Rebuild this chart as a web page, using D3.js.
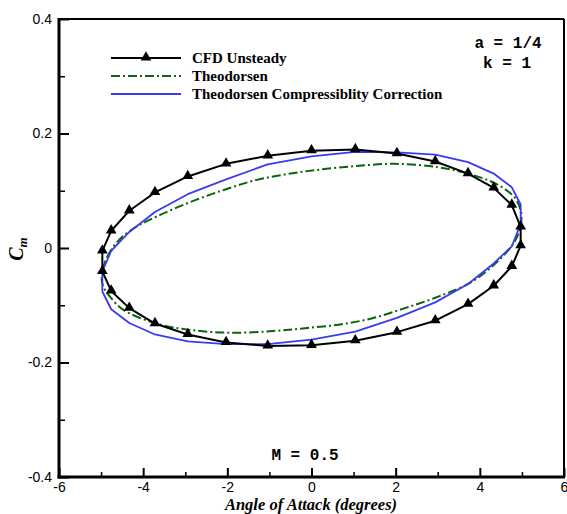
<!DOCTYPE html>
<html>
<head>
<meta charset="utf-8">
<script src="https://cdn.jsdelivr.net/npm/d3@7"></script>
<style>
  html, body { margin: 0; padding: 0; background: #fff; }
  svg { display: block; }
</style>
</head>
<body>
<svg id="chart" width="567" height="514"></svg>
<script>
// Angle of attack (deg) at each sampled phase around one pitching cycle
const phaseAlpha = [-4.97, -4.76, -4.33, -3.72, -2.94, -2.03, -1.04, 0, 1.04, 2.03, 2.94, 3.72, 4.33, 4.76, 4.97,
                    4.97, 4.76, 4.33, 3.72, 2.94, 2.03, 1.04, 0, -1.04, -2.03, -2.94, -3.72, -4.33, -4.76, -4.97];
// CFD unsteady moment coefficient at those phases
const cfdCm = [-0.005, 0.030, 0.065, 0.097, 0.125, 0.147, 0.161, 0.170, 0.172, 0.165, 0.151, 0.130, 0.105, 0.075, 0.037,
               0.004, -0.032, -0.066, -0.098, -0.127, -0.147, -0.162, -0.170, -0.171, -0.165, -0.151, -0.132, -0.105, -0.075, -0.041];
// Theodorsen with compressibility correction
const corrCm = [-0.041, -0.005, 0.028, 0.063, 0.094, 0.120, 0.146, 0.160, 0.168, 0.167, 0.163, 0.150, 0.130, 0.106, 0.076,
                0.042, 0.003, -0.027, -0.063, -0.095, -0.122, -0.146, -0.160, -0.168, -0.168, -0.163, -0.151, -0.131, -0.107, -0.076];
// Classical Theodorsen loop
const theoAlpha = [-4.98, -4.85, -4.60, -4.23, -3.68, -2.89, -2.10, -1.30, -0.50, 0.20, 1.03, 1.98, 3.01, 3.81, 4.44, 4.84, 4.98,
                   4.96, 4.80, 4.40, 3.81, 3.01, 2.22, 1.43, 0.64, -0.15, -0.91, -1.94, -2.89, -3.68, -4.47, -4.79, -4.96];
const theoCm = [-0.045, -0.015, 0.012, 0.034, 0.055, 0.080, 0.101, 0.119, 0.130, 0.137, 0.143, 0.147, 0.141, 0.128, 0.110, 0.087, 0.062,
                0.035, 0.008, -0.025, -0.059, -0.085, -0.105, -0.123, -0.134, -0.140, -0.145, -0.148, -0.143, -0.132, -0.108, -0.085, -0.065];

const xMajor = [-6, -4, -2, 0, 2, 4, 6];
const xMinor = [-5, -3, -1, 1, 3, 5];
const xTickText = ["-6", "-4", "-2", "0", "2", "4", "6"];
const yMajor = [-0.4, -0.2, 0, 0.2, 0.4];
const yMinor = [-0.3, -0.1, 0.1, 0.3];
const yTickText = ["-0.4", "-0.2", "0", "0.2", "0.4"];

const legendItems = ["CFD Unsteady", "Theodorsen", "Theodorsen Compressiblity Correction"];

const svg = d3.select("#chart");
const plotL = 59, plotR = 564, plotT = 19, plotB = 477;

const x = d3.scaleLinear().domain([-6, 6]).range([plotL, plotR]);
const y = d3.scaleLinear().domain([-0.4, 0.4]).range([plotB, plotT]);

const colCFD = "#000000", colTheo = "#0a640a", colCorr = "#3a3af2";
const sans = "Liberation Sans, Arial, sans-serif";
const serif = "Liberation Serif, Times New Roman, serif";
const mono = "Liberation Mono, Courier New, monospace";

// curves
const poly = d3.line().x(d => x(d[0])).y(d => y(d[1]));
const smooth = d3.line().x(d => x(d[0])).y(d => y(d[1])).curve(d3.curveCatmullRomClosed.alpha(0.5));

const cfdPts = phaseAlpha.map((a, i) => [a, cfdCm[i]]);
const corrPts = phaseAlpha.map((a, i) => [a, corrCm[i]]);
const theoPts = theoAlpha.map((a, i) => [a, theoCm[i]]);

svg.append("path").attr("d", smooth(theoPts))
  .attr("fill", "none").attr("stroke", colTheo).attr("stroke-width", 2)
  .attr("stroke-dasharray", "9,3,2,3");

svg.append("path").attr("d", poly(corrPts.concat([corrPts[0]])))
  .attr("fill", "none").attr("stroke", colCorr).attr("stroke-width", 1.8)
  .attr("stroke-linejoin", "round");

svg.append("path").attr("d", poly(cfdPts.concat([cfdPts[0]])))
  .attr("fill", "none").attr("stroke", colCFD).attr("stroke-width", 2)
  .attr("stroke-linejoin", "round");

const tri = d3.symbol().type(d3.symbolTriangle).size(50);
svg.append("g").selectAll("path").data(cfdPts).join("path")
  .attr("d", tri)
  .attr("transform", d => `translate(${x(d[0])},${y(d[1]) - 0.5})`)
  .attr("fill", colCFD);

// axes
const gx = svg.append("g").attr("transform", `translate(0,${plotB})`)
  .call(d3.axisBottom(x).tickValues(xMajor).tickSize(-9).tickFormat((d, i) => xTickText[i]));
gx.select(".domain").remove();
gx.selectAll("line").attr("stroke", "#000").attr("stroke-width", 2);
gx.selectAll("text").attr("font-family", sans).attr("font-size", 14).attr("fill", "#000")
  .attr("dy", 0).attr("y", 15);
const gxm = svg.append("g").attr("transform", `translate(0,${plotB})`)
  .call(d3.axisBottom(x).tickValues(xMinor).tickSize(-5).tickFormat(""));
gxm.select(".domain").remove();
gxm.selectAll("line").attr("stroke", "#000").attr("stroke-width", 1.5);

const gy = svg.append("g").attr("transform", `translate(${plotL},0)`)
  .call(d3.axisLeft(y).tickValues(yMajor).tickSize(-10).tickFormat((d, i) => yTickText[i]));
gy.select(".domain").remove();
gy.selectAll("line").attr("stroke", "#000").attr("stroke-width", 2);
gy.selectAll("text").attr("font-family", sans).attr("font-size", 14).attr("fill", "#000").attr("x", -7);
const gym = svg.append("g").attr("transform", `translate(${plotL},0)`)
  .call(d3.axisLeft(y).tickValues(yMinor).tickSize(-6).tickFormat(""));
gym.select(".domain").remove();
gym.selectAll("line").attr("stroke", "#000").attr("stroke-width", 1.5);

// frame: heavier on the axis sides
svg.append("line").attr("x1", plotL).attr("x2", plotR).attr("y1", plotT).attr("y2", plotT).attr("stroke", "#000").attr("stroke-width", 2);
svg.append("line").attr("x1", plotR).attr("x2", plotR).attr("y1", plotT).attr("y2", plotB).attr("stroke", "#000").attr("stroke-width", 2);
svg.append("line").attr("x1", plotL).attr("x2", plotL).attr("y1", plotT - 1).attr("y2", plotB + 1.5).attr("stroke", "#000").attr("stroke-width", 3);
svg.append("line").attr("x1", plotL - 1.5).attr("x2", plotR + 1).attr("y1", plotB).attr("y2", plotB).attr("stroke", "#000").attr("stroke-width", 3);

// axis titles
svg.append("text").attr("x", 311).attr("y", 509.5).attr("text-anchor", "middle")
  .attr("font-family", serif).attr("font-weight", "bold").attr("font-style", "italic")
  .attr("font-size", 16.5).text("Angle of Attack (degrees)");

const yt = svg.append("text").attr("transform", "translate(23,249) rotate(-90)").attr("text-anchor", "middle")
  .attr("font-family", serif).attr("font-weight", "bold").attr("font-style", "italic");
yt.append("tspan").attr("font-size", 20).text("C");
yt.append("tspan").attr("font-size", 13).attr("dy", 4).text("m");

// legend
const legY = [58, 76, 94];
const lg = svg.append("g");
lg.append("line").attr("x1", 111).attr("x2", 181).attr("y1", legY[0]).attr("y2", legY[0]).attr("stroke", colCFD).attr("stroke-width", 2);
lg.append("path").attr("d", tri).attr("transform", `translate(146,${legY[0] - 0.5})`).attr("fill", colCFD);
lg.append("line").attr("x1", 111).attr("x2", 181).attr("y1", legY[1]).attr("y2", legY[1]).attr("stroke", colTheo).attr("stroke-width", 2).attr("stroke-dasharray", "9,3,2,3");
lg.append("line").attr("x1", 111).attr("x2", 181).attr("y1", legY[2]).attr("y2", legY[2]).attr("stroke", colCorr).attr("stroke-width", 2);
lg.selectAll("text").data(legendItems).join("text")
  .attr("x", 192).attr("y", (d, i) => legY[i] + 5)
  .attr("font-family", serif).attr("font-weight", "bold")
  .attr("font-size", 15).text(d => d);

// case annotations
svg.append("text").attr("x", 508).attr("y", 48).attr("text-anchor", "middle")
  .attr("font-family", mono).attr("font-weight", "bold").attr("font-size", 16).text("a = 1/4");
svg.append("text").attr("x", 507).attr("y", 68).attr("text-anchor", "middle")
  .attr("font-family", mono).attr("font-weight", "bold").attr("font-size", 16).text("k = 1");
svg.append("text").attr("x", 305).attr("y", 460).attr("text-anchor", "middle")
  .attr("font-family", mono).attr("font-weight", "bold").attr("font-size", 16).text("M = 0.5");
</script>
</body>
</html>
